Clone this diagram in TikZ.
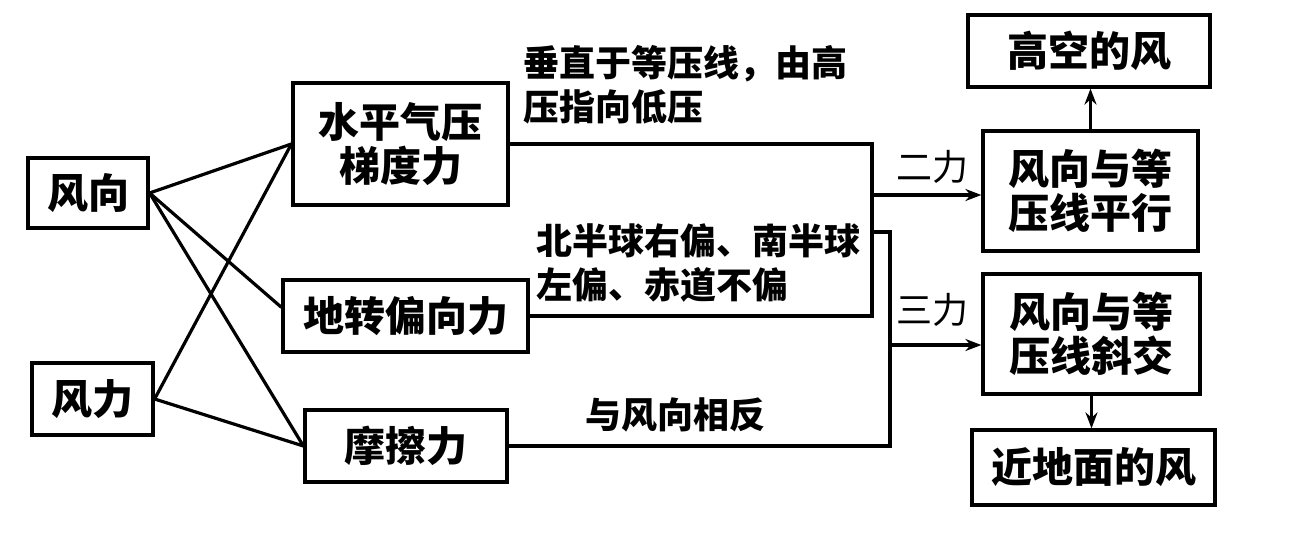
\documentclass[tikz,border=0pt]{standalone}
\usepackage{fontspec}
\newfontfamily\cjk{Noto Sans CJK SC}
\usetikzlibrary{arrows.meta,positioning}

\begin{document}
\begin{tikzpicture}[
    x=0.5pt, y=-0.5pt,
    line width=1.6pt,
    arr/.style={-{Stealth[length=8pt,width=6pt]}},
    box/.style={
        draw,
        rectangle,
        align=center,
        inner sep=0pt,
        font=\cjk\bfseries\fontsize{20.5pt}{22pt}\selectfont
    },
    note/.style={
        align=left,
        inner sep=0pt,
        font=\cjk\bfseries\fontsize{18pt}{22pt}\selectfont
    }
]
\useasboundingbox (0,0) rectangle (1295,536);

\node[box, minimum width=60pt, minimum height=35pt] (fx) at (88,193) {风向};
\node[box, minimum width=60.5pt, minimum height=36pt] (fl) at (92.5,399) {风力};

\node[box, minimum width=107.5pt, minimum height=61pt] (sp) at (400.5,144) {水平气压\\梯度力};
\node[box, minimum width=122.5pt, minimum height=36pt] (dz) at (405.5,316) {地转偏向力};
\node[box, minimum width=101pt, minimum height=36pt] (mc) at (406,446) {摩擦力};

\node[box, minimum width=121pt, minimum height=36pt] (gk) at (1089,51) {高空的风};
\node[box, minimum width=107.5pt, minimum height=60pt] (px) at (1090.5,191) {风向与等\\压线平行};
\node[box, minimum width=108.5pt, minimum height=60pt] (xj) at (1091.5,334) {风向与等\\压线斜交};
\node[box, minimum width=121.5pt, minimum height=37.5pt] (jd) at (1093.5,467.5) {近地面的风};

\coordinate (j1) at (872,195);
\coordinate (k2) at (872,232);
\coordinate (j2) at (890,345);

\draw (fx.east) -- (sp.west);
\draw (fx.east) -- (dz.176);
\draw (fx.east) -- (mc.west);
\draw (fl.east) -- (sp.west);
\draw (fl.east) -- (mc.west);

\draw (sp.east) -| (j1) |- (dz.east);
\draw (k2) -| (j2) |- (mc.east);
\draw[arr] (j1) -- (j1 -| px.west);
\draw[arr] (j2) -- (j2 -| xj.west);
\draw[arr] (px.north) -- (px.north |- gk.south);
\draw[arr] (xj.south) -- (xj.south |- jd.north);

\node[note, anchor=west] (t1) at (522,85) {垂直于等压线，由高\\压指向低压};
\node[note, anchor=west] (t2) at (535,263) {北半球右偏、南半球\\左偏、赤道不偏};
\node[note] (t3) at (675,415) {与风向相反};
\node[note, font=\cjk\fontsize{18pt}{22pt}\selectfont] (l2) at (932,167) {二力};
\node[note, font=\cjk\fontsize{18pt}{22pt}\selectfont] (l3) at (932,310) {三力};

\end{tikzpicture}
\end{document}
